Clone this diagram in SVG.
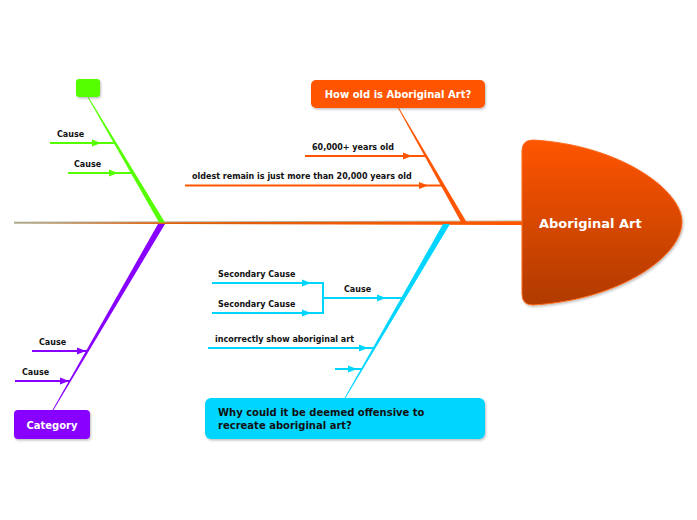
<svg xmlns="http://www.w3.org/2000/svg" xmlns:xlink="http://www.w3.org/1999/xlink" width="697" height="520" viewBox="0 0 697 520">
<style>
.lbl{font-family:"DejaVu Sans",Verdana,sans-serif;font-weight:bold;font-size:8px;fill:#111}
.box{font-family:"DejaVu Sans",Verdana,sans-serif;font-weight:bold;font-size:10px}
.cause{stroke-width:2;fill:none}
</style>
<defs>
<linearGradient id="spine" x1="0" y1="0" x2="1" y2="0">
<stop offset="0" stop-color="#8f8a60"/>
<stop offset="0.25" stop-color="#d8620f"/>
<stop offset="1" stop-color="#ff5500"/>
</linearGradient>
<linearGradient id="head" x1="0" y1="0" x2="0" y2="1">
<stop offset="0" stop-color="#ff5500"/>
<stop offset="1" stop-color="#b03a00"/>
</linearGradient>
<filter id="sh" x="-10%" y="-20%" width="130%" height="150%">
<feDropShadow dx="1" dy="1.5" stdDeviation="1.2" flood-color="#000" flood-opacity="0.25"/>
</filter>
<path id="ah" d="M-9,-3.5 L0,0 L-9,3.5 Z"/>
</defs>

<g id="connectors">
<line x1="14" y1="222.2" x2="522" y2="221" stroke="#9aa08a" stroke-width="0.8"/>
<polygon points="14,222.6 14,223.6 522,225 522,221.2" fill="url(#spine)"/>
<!-- green branch -->
<polygon points="87.5,97 88.5,97 165,222.5 159,222.5" fill="#55ff00"/>
<g stroke="#55ff00" class="cause">
<line x1="50" y1="143" x2="116" y2="143"/>
<line x1="68" y1="173" x2="133" y2="173"/>
</g>
<use xlink:href="#ah" x="101" y="143" fill="#55ff00"/>
<use xlink:href="#ah" x="118" y="173" fill="#55ff00"/>
<!-- orange branch -->
<polygon points="398,108 399,108 466.5,222 461,222" fill="#ff5500"/>
<g stroke="#ff5500" class="cause">
<line x1="305" y1="156" x2="426" y2="156"/>
<line x1="185" y1="185.5" x2="443" y2="185.5"/>
</g>
<use xlink:href="#ah" x="412" y="156" fill="#ff5500"/>
<use xlink:href="#ah" x="428" y="185.5" fill="#ff5500"/>
<!-- purple branch -->
<polygon points="158,224 165,224 53.5,410 52.5,410" fill="#8800ff"/>
<g stroke="#8800ff" class="cause">
<line x1="32" y1="351" x2="88" y2="351"/>
<line x1="15" y1="381" x2="70" y2="381"/>
</g>
<use xlink:href="#ah" x="86" y="351" fill="#8800ff"/>
<use xlink:href="#ah" x="69" y="381" fill="#8800ff"/>
<!-- cyan branch -->
<polygon points="443,224 450,224 345.5,398 344.5,398" fill="#00d5ff"/>
<g stroke="#00d5ff" class="cause">
<line x1="323" y1="298" x2="404" y2="298"/>
<line x1="212" y1="283" x2="323" y2="283"/>
<line x1="212" y1="313" x2="323" y2="313"/>
<line x1="323" y1="282" x2="323" y2="314"/>
<line x1="208" y1="348" x2="374" y2="348"/>
<line x1="335" y1="369" x2="362" y2="369"/>
</g>
<use xlink:href="#ah" x="386" y="298" fill="#00d5ff"/>
<use xlink:href="#ah" x="311" y="283" fill="#00d5ff"/>
<use xlink:href="#ah" x="311" y="313" fill="#00d5ff"/>
<use xlink:href="#ah" x="368" y="348" fill="#00d5ff"/>
<use xlink:href="#ah" x="357" y="369" fill="#00d5ff"/>
</g>

<g id="labels">
<text class="lbl" x="57" y="137">Cause</text>
<text class="lbl" x="74" y="167">Cause</text>
<text class="lbl" x="312" y="150">60,000+ years old</text>
<text class="lbl" x="192" y="179">oldest remain is just more than 20,000 years old</text>
<text class="lbl" x="39" y="345">Cause</text>
<text class="lbl" x="22" y="375">Cause</text>
<text class="lbl" x="344" y="292">Cause</text>
<text class="lbl" x="218" y="277">Secondary Cause</text>
<text class="lbl" x="218" y="307">Secondary Cause</text>
<text class="lbl" x="215" y="342">incorrectly show aboriginal art</text>
</g>

<g id="head-node">
<path d="M533,140 C620,145 682,190 682,222 C682,256 620,300 533,305 Q522,305 522,294 L522,151 Q522,140 533,140 Z" fill="url(#head)" stroke="#ff6a1a" stroke-width="1" filter="url(#sh)"/>
<text class="box" x="539" y="228" fill="#fff" style="font-size:13px">Aboriginal Art</text>
</g>

<g id="node-green">
<rect x="76" y="79" width="24" height="18" rx="3" fill="#55ff00" filter="url(#sh)"/>
</g>

<g id="node-orange">
<rect x="311" y="80" width="174" height="28" rx="5" fill="#ff5500" filter="url(#sh)"/>
<text class="box" x="398" y="98" text-anchor="middle" fill="#fff">How old is Aboriginal Art?</text>
</g>

<g id="node-purple">
<rect x="14" y="410" width="76" height="29" rx="4" fill="#8800ff" filter="url(#sh)"/>
<text class="box" x="52" y="429" text-anchor="middle" fill="#fff">Category</text>
</g>

<g id="node-cyan">
<rect x="205" y="398" width="280" height="41" rx="6" fill="#00d5ff" filter="url(#sh)"/>
<text class="box" x="218" y="416" fill="#111">Why could it be deemed offensive to</text>
<text class="box" x="218" y="429" fill="#111">recreate aboriginal art?</text>
</g>
</svg>
